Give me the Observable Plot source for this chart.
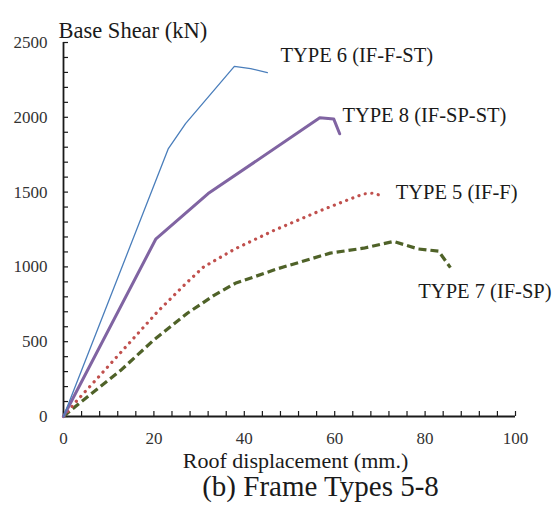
<!DOCTYPE html>
<html><head><meta charset="utf-8">
<script src="https://cdn.jsdelivr.net/npm/d3@7"></script>
<script src="https://cdn.jsdelivr.net/npm/@observablehq/plot@0.6"></script>
<style>
body{margin:0;background:#fff}
#chart text { font-family: 'Liberation Serif' !important; }
</style>
</head><body><div id="chart"></div>
<script>
// Series values (x: roof displacement mm, y: base shear kN)
const type6X = [0, 23.2, 27, 37.8, 41.4, 45.1];
const type6Y = [0, 1791, 1958, 2340, 2326, 2299];
const type8X = [0, 20.4, 32, 56.7, 59.8, 61.1];
const type8Y = [0, 1185, 1490, 1997, 1988, 1890];
const type5X = [0, 3, 8.2, 14.4, 20.7, 27, 31, 38, 46.5, 56.5, 63.5, 66.4, 68.5, 71];
const type5Y = [0, 107, 279, 486, 697, 887, 1000, 1121, 1243, 1372, 1455, 1488, 1493, 1470];
const type7X = [0, 3.8, 12.6, 20, 27.4, 33.3, 38, 47.3, 59, 66.4, 73, 78.5, 83, 85.6];
const type7Y = [0, 96, 307, 512, 690, 810, 890, 987, 1092, 1125, 1170, 1120, 1105, 995];

const labels = ["TYPE 6 (IF-F-ST)", "TYPE 8 (IF-SP-ST)", "TYPE 5 (IF-F)", "TYPE 7 (IF-SP)"];
const labelX = [48, 61.7, 73.5, 78.5];
const labelY = [2413, 2012, 1501, 839];

const xTicks = [0, 20, 40, 60, 80, 100];
const yTicks = [0, 500, 1000, 1500, 2000, 2500];
const xMinor = d3.range(0, 101, 4);
const yMinor = d3.range(0, 2501, 100);

const yTitle = "Base Shear (kN)";
const xTitle = "Roof displacement (mm.)";
const caption = "(b) Frame Types 5-8";

const toPts = (xs, ys) => xs.map((x, i) => ({x, y: ys[i]}));
const labelData = labels.map((t, i) => ({t, x: labelX[i], y: labelY[i]}));

const W = 555, H = 507, mL = 63, mR = 40, mT = 42, mB = 91;
const plotW = W - mL - mR, plotH = H - mT - mB;
const ink = "#1a1a1a";

const chart = Plot.plot({
  width: W, height: H,
  marginLeft: mL, marginRight: mR, marginTop: mT, marginBottom: mB,
  style: {fontFamily: "'Liberation Serif'", color: ink, background: "#fff", overflow: "visible"},
  x: {domain: [0, 100]},
  y: {domain: [0, 2500]},
  marks: [
    Plot.axisX(xTicks, {tickSize: 0, tickPadding: 15, fontSize: 17, label: null, fill: "#333", tickFormat: d3.format("d")}),
    Plot.axisY(yTicks, {tickSize: 0, tickPadding: 16, fontSize: 17, label: null, fill: "#333", tickFormat: d3.format("d")}),
    Plot.tickX(xMinor, {x: d => d, insetTop: plotH - 5, stroke: ink, strokeWidth: 1.2}),
    Plot.tickY(yMinor, {y: d => d, insetRight: plotW - 5, stroke: ink, strokeWidth: 1.2}),
    Plot.ruleY([0], {stroke: ink, strokeWidth: 1.8}),
    Plot.ruleX([0], {stroke: ink, strokeWidth: 1.8}),
    Plot.line(toPts(type7X, type7Y), {x: "x", y: "y", stroke: "#4F6228", strokeWidth: 3.2, strokeDasharray: "8,4", strokeLinecap: "butt"}),
    Plot.line(toPts(type5X, type5Y), {x: "x", y: "y", stroke: "#C0504D", strokeWidth: 3.2, strokeDasharray: "0.1,6.5", strokeLinecap: "round"}),
    Plot.line(toPts(type8X, type8Y), {x: "x", y: "y", stroke: "#8064A2", strokeWidth: 3, strokeLinejoin: "round"}),
    Plot.line(toPts(type6X, type6Y), {x: "x", y: "y", stroke: "#4A7EBB", strokeWidth: 1.3}),
    Plot.text(labelData, {x: "x", y: "y", text: "t", textAnchor: "start", lineAnchor: "middle", fontSize: 20.5, fill: ink}),
    Plot.text([yTitle], {frameAnchor: "top-left", textAnchor: "start", lineAnchor: "middle", dx: -5, dy: -12, fontSize: 22.5, fill: ink}),
    Plot.text([xTitle], {frameAnchor: "bottom", lineAnchor: "middle", dx: 6, dy: 44, fontSize: 22, fill: ink}),
    Plot.text([caption], {frameAnchor: "bottom", lineAnchor: "middle", dx: 31, dy: 70, fontSize: 29, fill: ink})
  ]
});
document.getElementById("chart").appendChild(chart);
</script>
</body></html>
